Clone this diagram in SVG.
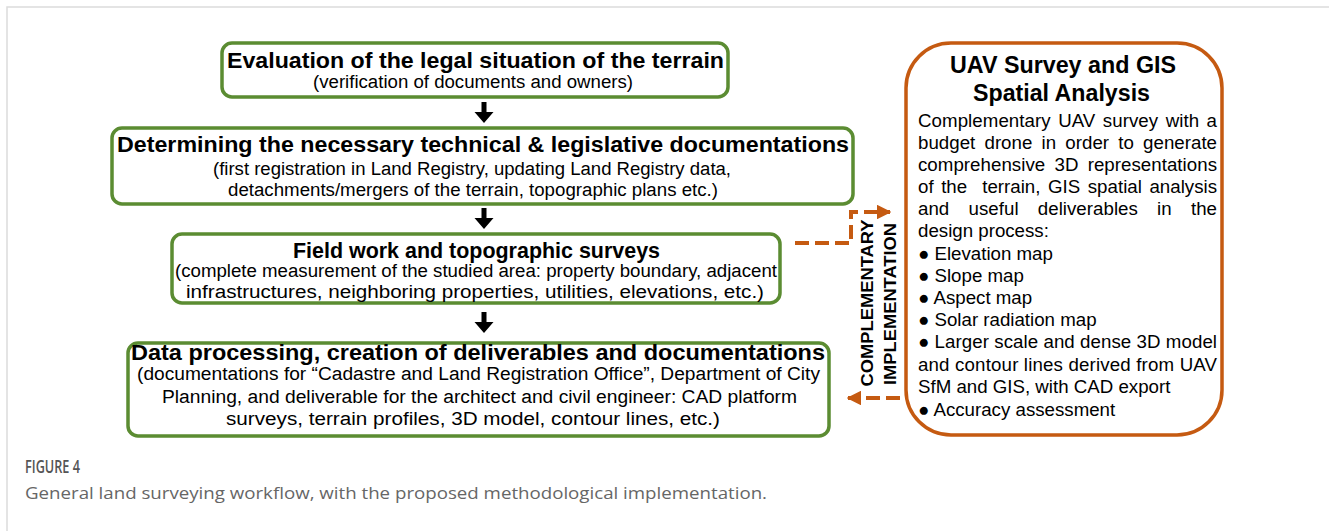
<svg xmlns="http://www.w3.org/2000/svg" width="1329" height="531" viewBox="0 0 1329 531">
<style>
.g{fill:#fff;stroke:#5b8c32;stroke-width:3.5}
.o{fill:#fff;stroke:#c55a11;stroke-width:3.5}
.t{font-family:"Liberation Sans",Arial,sans-serif;font-weight:bold;font-size:22px;fill:#000;text-anchor:middle}
.s{font-family:"Liberation Sans",Arial,sans-serif;font-size:18px;fill:#000;text-anchor:middle}
.b{font-family:"Liberation Sans",Arial,sans-serif;font-size:18.7px;fill:#000}
.ot{font-family:"Liberation Sans",Arial,sans-serif;font-weight:bold;font-size:23.5px;fill:#000;text-anchor:middle}
.v{font-family:"Liberation Sans",Arial,sans-serif;font-weight:bold;font-size:17px;fill:#000;text-anchor:middle}
.d{fill:none;stroke:#c55a11;stroke-width:4;stroke-dasharray:14 6}
.cap{font-family:"Open Sans","Noto Sans",sans-serif}
</style>
<defs>
<marker id="oh" viewBox="0 0 10 10" refX="9" refY="5" markerWidth="3.7" markerHeight="3.7" orient="auto" markerUnits="strokeWidth">
<path d="M0,0 L10,5 L0,10 Z" fill="#c55a11"/>
</marker>
<path id="da" d="M-2.5,0 h5 v10 h7 l-9.5,11 l-9.5,-11 h7 Z" fill="#000"/>
</defs>
<path d="M7,531 V7 H1329" fill="none" stroke="#dcdcdc" stroke-width="1.5"/>

<g id="node-legal">
<rect class="g" x="222" y="43" width="506" height="54" rx="10"/>
<text class="t" x="475.5" y="68" textLength="497" lengthAdjust="spacingAndGlyphs">Evaluation of the legal situation of the terrain</text>
<text class="s" x="473" y="88" textLength="320" lengthAdjust="spacingAndGlyphs">(verification of documents and owners)</text>
</g>
<g id="node-docs">
<rect class="g" x="112" y="128" width="741" height="76" rx="10"/>
<text class="t" x="483" y="152" textLength="732" lengthAdjust="spacingAndGlyphs">Determining the necessary technical &amp; legislative documentations</text>
<text class="s" x="472" y="175" textLength="518" lengthAdjust="spacingAndGlyphs">(first registration in Land Registry, updating Land Registry data,</text>
<text class="s" x="473" y="196" textLength="490" lengthAdjust="spacingAndGlyphs">detachments/mergers of the terrain, topographic plans etc.)</text>
</g>
<g id="node-field">
<rect class="g" x="172" y="234" width="608" height="69" rx="10"/>
<text class="t" x="476.5" y="258" textLength="367" lengthAdjust="spacingAndGlyphs">Field work and topographic surveys</text>
<text class="s" x="476" y="277" textLength="602" lengthAdjust="spacingAndGlyphs">(complete measurement of the studied area: property boundary, adjacent</text>
<text class="s" x="475" y="298" textLength="578" lengthAdjust="spacingAndGlyphs">infrastructures, neighboring properties, utilities, elevations, etc.)</text>
</g>
<g id="node-data">
<rect class="g" x="128" y="343" width="701" height="93" rx="10"/>
<text class="t" x="478" y="360" textLength="694" lengthAdjust="spacingAndGlyphs">Data processing, creation of deliverables and documentations</text>
<text class="s" x="478.5" y="380" textLength="683" lengthAdjust="spacingAndGlyphs">(documentations for “Cadastre and Land Registration Office”, Department of City</text>
<text class="s" x="479.5" y="403" textLength="635" lengthAdjust="spacingAndGlyphs">Planning, and deliverable for the architect and civil engineer: CAD platform</text>
<text class="s" x="473" y="425" textLength="494" lengthAdjust="spacingAndGlyphs">surveys, terrain profiles, 3D model, contour lines, etc.)</text>
</g>
<g id="node-uav">
<rect class="o" x="906" y="43" width="316" height="392" rx="45"/>
<text class="ot" x="1063" y="73" textLength="226" lengthAdjust="spacingAndGlyphs">UAV Survey and GIS</text>
<text class="ot" x="1061.5" y="101" textLength="177" lengthAdjust="spacingAndGlyphs">Spatial Analysis</text>
<text class="b" x="918" y="127" word-spacing="2.2" textLength="299" lengthAdjust="spacing">Complementary UAV survey with a</text>
<text class="b" x="918" y="149" word-spacing="4" textLength="299" lengthAdjust="spacing">budget drone in order to generate</text>
<text class="b" x="918" y="171" word-spacing="4" textLength="299" lengthAdjust="spacing">comprehensive 3D representations</text>
<text class="b" x="918" y="193" word-spacing="2.3" textLength="299" lengthAdjust="spacing" xml:space="preserve">of the  terrain, GIS spatial analysis</text>
<text class="b" x="918" y="215" word-spacing="14" textLength="299" lengthAdjust="spacing">and useful deliverables in the</text>
<text class="b" x="918" y="237">design process:</text>
<text class="b" x="918" y="260">● Elevation map</text>
<text class="b" x="918" y="282">● Slope map</text>
<text class="b" x="918" y="304">● Aspect map</text>
<text class="b" x="918" y="326">● Solar radiation map</text>
<text class="b" x="918" y="348" textLength="299" lengthAdjust="spacing">● Larger scale and dense 3D model</text>
<text class="b" x="918" y="371" textLength="299" lengthAdjust="spacing">and contour lines derived from UAV</text>
<text class="b" x="918" y="393">SfM and GIS, with CAD export</text>
<text class="b" x="918" y="416">● Accuracy assessment</text>
</g>
<g id="label-complementary">
<text class="v" transform="translate(873,303) rotate(-90)" textLength="167" lengthAdjust="spacingAndGlyphs">COMPLEMENTARY</text>
<text class="v" transform="translate(896,304) rotate(-90)" textLength="162" lengthAdjust="spacingAndGlyphs">IMPLEMENTATION</text>
</g>
<g id="connectors">
<use href="#da" x="484" y="102"/>
<use href="#da" x="484" y="208"/>
<use href="#da" x="484" y="312"/>
<path class="d" d="M795,243 H851 V212 H890" marker-end="url(#oh)"/>
<path class="d" d="M900,398 H848" marker-end="url(#oh)"/>
</g>
<g id="caption">
<text class="cap" x="25" y="473" font-size="17.5" font-weight="600" fill="#555" textLength="55" lengthAdjust="spacingAndGlyphs">FIGURE 4</text>
<text class="cap" x="25" y="499" font-size="16" fill="#666" textLength="742" lengthAdjust="spacingAndGlyphs">General land surveying workflow, with the proposed methodological implementation.</text>
</g>
</svg>
